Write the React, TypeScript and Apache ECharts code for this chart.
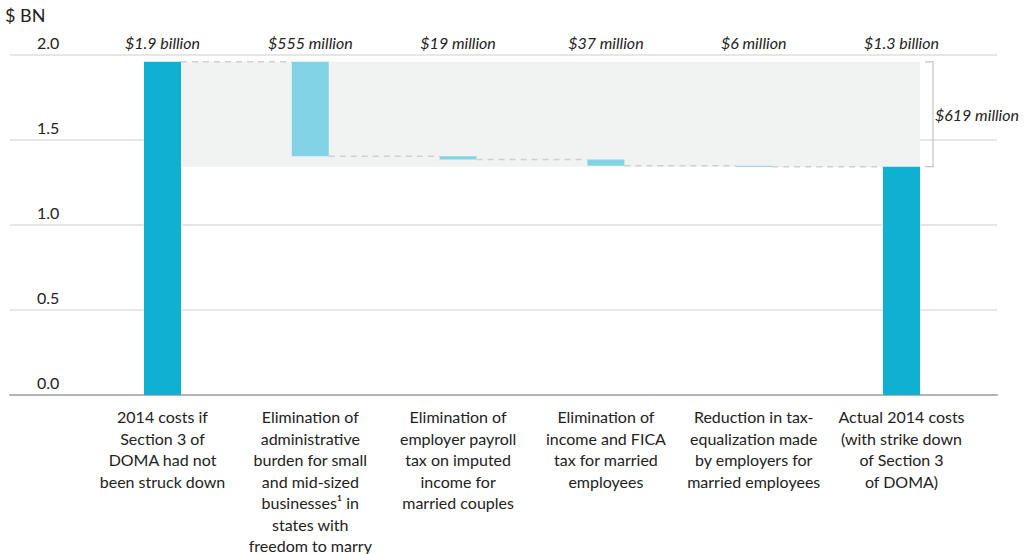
import React, { useEffect, useRef } from "react";
import * as echarts from "echarts";

const categories = [
  "2014 costs if\nSection 3 of\nDOMA had not\nbeen struck down",
  "Elimination of\nadministrative\nburden for small\nand mid-sized\nbusinesses¹ in\nstates with\nfreedom to marry",
  "Elimination of\nemployer payroll\ntax on imputed\nincome for\nmarried couples",
  "Elimination of\nincome and FICA\ntax for married\nemployees",
  "Reduction in tax-\nequalization made\nby employers for\nmarried employees",
  "Actual 2014 costs\n(with strike down\nof Section 3\nof DOMA)",
];
const topLabels = ["$1.9 billion", "$555 million", "$19 million", "$37 million", "$6 million", "$1.3 billion"];
const startTotal = 1.96;
const steps = [0.555, 0.019, 0.037, 0.006];
const bracketLabel = "$619 million";
const yTicks = [0, 0.5, 1.0, 1.5, 2.0];

const TOTAL_COLOR = "#10b0d3";
const STEP_COLOR = "#83d3e6";
const HALF_BAR = 18.5;

export default function App() {
  const ref = useRef<HTMLDivElement>(null);
  useEffect(() => {
    if (!ref.current) return;
    const chart = echarts.init(ref.current, undefined, { renderer: "svg" });

    const levels: number[] = [startTotal];
    steps.forEach((s) => levels.push(levels[levels.length - 1] - s));
    const finalTotal = levels[levels.length - 1];
    const baseData = [0, ...levels.slice(1), 0];
    const valueData = [startTotal, ...steps, finalTotal].map((v, i) => ({
      value: v,
      itemStyle: { color: i === 0 || i === steps.length + 1 ? TOTAL_COLOR : STEP_COLOR },
    }));
    const lastIdx = steps.length + 1;
    const connectorData = levels.map((lv, i) => [i, lv]);

    const font = "Lato, 'Open Sans', sans-serif";
    const FS = 16;

    chart.setOption({
      animation: false,
      textStyle: { fontFamily: font },
      graphic: [
        {
          type: "text",
          left: 5,
          top: 6,
          style: { text: "$ BN", fontSize: 18, fill: "#222", fontFamily: font },
        },
      ],
      grid: [
        { left: 10, right: 34, top: 55, bottom: 159, outerBoundsMode: "none", containLabel: false },
        { left: 88.6, right: 55.6, top: 55, bottom: 159, outerBoundsMode: "none", containLabel: false },
      ],
      xAxis: [
        {
          gridIndex: 0,
          type: "category",
          data: [""],
          axisLine: { show: true, lineStyle: { color: "#b4b4b4", width: 2 } },
          axisTick: { show: false },
          axisLabel: { show: false },
        },
        {
          gridIndex: 1,
          type: "category",
          data: categories,
          axisLine: { show: false },
          axisTick: { show: false },
          axisLabel: {
            interval: 0,
            fontSize: FS,
            lineHeight: 21.5,
            color: "#222",
            margin: 11,
            fontFamily: font,
          },
        },
        {
          gridIndex: 1,
          type: "category",
          position: "top",
          data: topLabels,
          axisLine: { show: false },
          axisTick: { show: false },
          axisLabel: {
            interval: 0,
            fontSize: FS,
            fontStyle: "italic",
            color: "#222",
            margin: 5,
            fontFamily: font,
          },
        },
      ],
      yAxis: [
        {
          gridIndex: 0,
          type: "value",
          min: yTicks[0],
          max: yTicks[yTicks.length - 1],
          interval: 0.5,
          axisLine: { show: false },
          axisTick: { show: false },
          splitLine: { lineStyle: { color: "#dedede", width: 1.5 } },
          axisLabel: {
            inside: true,
            margin: 27,
            verticalAlign: "bottom",
            padding: [0, 0, 5, 0],
            fontSize: FS,
            color: "#222",
            fontFamily: font,
            formatter: (v: number) => v.toFixed(1),
          },
        },
        {
          gridIndex: 1,
          type: "value",
          min: yTicks[0],
          max: yTicks[yTicks.length - 1],
          interval: 0.5,
          show: false,
        },
      ],
      series: [
        {
          type: "custom",
          xAxisIndex: 1,
          yAxisIndex: 1,
          z: 1,
          clip: false,
          silent: true,
          data: [[0, startTotal, finalTotal]],
          encode: { x: 0, y: 1 },
          renderItem: (params: any, api: any) => {
            const p0 = api.coord([0, api.value(1)]);
            const p1 = api.coord([lastIdx, api.value(2)]);
            const x0 = p0[0] + HALF_BAR;
            const x1 = p1[0] + HALF_BAR;
            return {
              type: "rect",
              shape: { x: x0, y: p0[1], width: x1 - x0, height: p1[1] - p0[1] },
              style: { fill: "#f1f3f2" },
            };
          },
        },
        {
          type: "bar",
          xAxisIndex: 1,
          yAxisIndex: 1,
          stack: "w",
          barWidth: 37,
          z: 2,
          silent: true,
          itemStyle: { color: "transparent" },
          data: baseData,
        },
        {
          type: "bar",
          xAxisIndex: 1,
          yAxisIndex: 1,
          stack: "w",
          barWidth: 37,
          z: 2,
          silent: true,
          data: valueData,
        },
        {
          type: "custom",
          xAxisIndex: 1,
          yAxisIndex: 1,
          z: 3,
          clip: false,
          silent: true,
          data: connectorData,
          encode: { x: 0, y: 1 },
          renderItem: (params: any, api: any) => {
            const i = api.value(0);
            const a = api.coord([i, api.value(1)]);
            const b = api.coord([i + 1, api.value(1)]);
            return {
              type: "line",
              shape: { x1: a[0] + HALF_BAR, y1: a[1], x2: b[0] - HALF_BAR, y2: b[1] },
              style: { stroke: "#cfcfcf", lineWidth: 1.5, lineDash: [6, 5] },
            };
          },
        },
        {
          type: "custom",
          xAxisIndex: 1,
          yAxisIndex: 1,
          z: 3,
          clip: false,
          silent: true,
          data: [[lastIdx, startTotal, finalTotal]],
          encode: { x: 0, y: 1 },
          renderItem: (params: any, api: any) => {
            const top = api.coord([api.value(0), api.value(1)]);
            const bot = api.coord([api.value(0), api.value(2)]);
            const x = top[0] + HALF_BAR + 13;
            return {
              type: "group",
              children: [
                {
                  type: "polyline",
                  shape: {
                    points: [
                      [x - 8, top[1]],
                      [x, top[1]],
                      [x, bot[1]],
                      [x - 8, bot[1]],
                    ],
                  },
                  style: { stroke: "#c4c4c4", lineWidth: 1.2, fill: null },
                },
                {
                  type: "text",
                  x: x + 2,
                  y: (top[1] + bot[1]) / 2,
                  style: {
                    text: bracketLabel,
                    fontSize: FS,
                    fontStyle: "italic",
                    fill: "#222",
                    fontFamily: font,
                    align: "left",
                    verticalAlign: "middle",
                  },
                },
              ],
            };
          },
        },
      ],
    });
    return () => chart.dispose();
  }, []);
  return (
    <div
      ref={ref}
      style={{ position: "fixed", left: 0, top: 0, width: 1031, height: 554, background: "#fff" }}
    />
  );
}
